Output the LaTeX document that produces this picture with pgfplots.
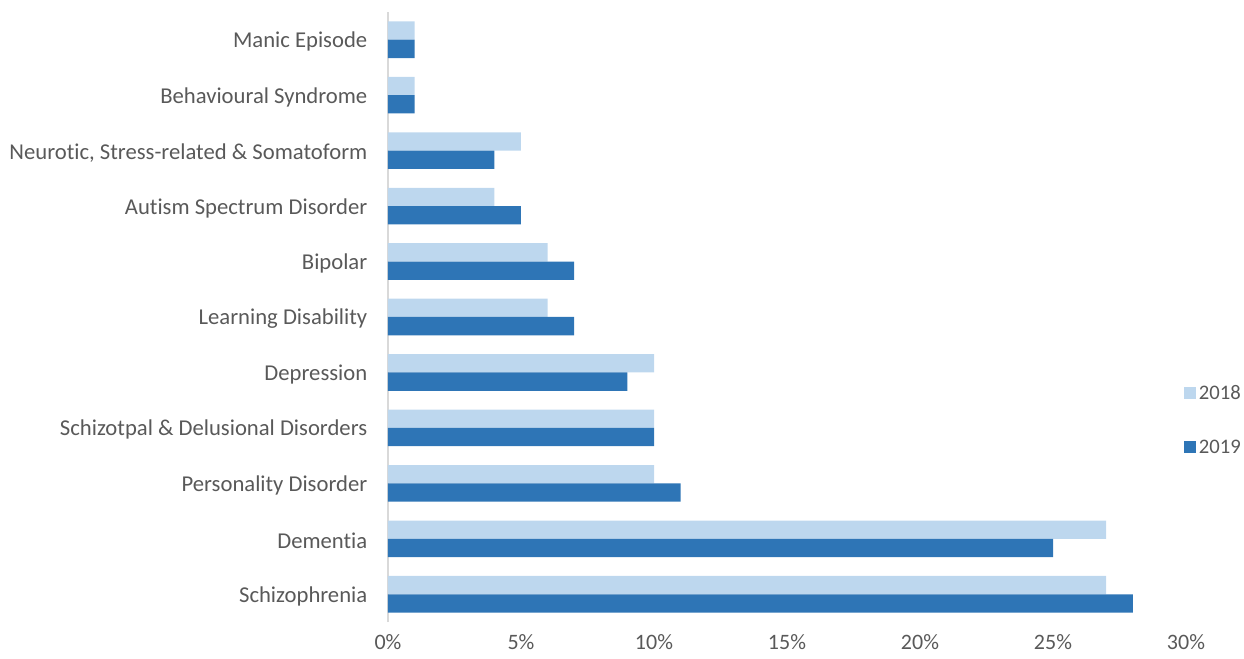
\documentclass[border=0pt]{standalone}
\usepackage{pgfplots}
\pgfplotsset{compat=1.18}
\usepackage{fontspec}
\setmainfont{Carlito}[Ligatures=NoCommon]
\definecolor{lightbar}{HTML}{BDD7EE}
\definecolor{darkbar}{HTML}{2E75B6}
\definecolor{txt}{HTML}{595959}
\definecolor{axisgray}{HTML}{D9D9D9}
\begin{document}
\begin{tikzpicture}
\useasboundingbox (-291pt,-27.75pt) rectangle (642pt,466.5pt);
\begin{axis}[
  at={(0,0)}, anchor=south west,
  scale only axis,
  width=598.5pt, height=457.5pt,
  xbar, bar width=0.33,
  xmin=0, xmax=30,
  ymin=-0.5, ymax=10.5,
  xtick={0,5,...,30},
  xticklabel={\pgfmathprintnumber{\tick}\%},
  ytick={0,...,10},
  yticklabels={Schizophrenia,Dementia,Personality Disorder,Schizotpal \& Delusional Disorders,Depression,Learning Disability,Bipolar,Autism Spectrum Disorder,{Neurotic, Stress-related \& Somatoform},Behavioural Syndrome,Manic Episode},
  axis lines*=left,
  axis line style={-},
  x axis line style={draw=none},
  y axis line style={draw=axisgray, line width=1pt},
  major tick length=0pt,
  tick label style={text=txt},
  yticklabel style={font=\fontsize{17}{20}\selectfont, xshift=-12pt, yshift=-1.5pt},
  xticklabel style={font=\fontsize{16.5}{20}\selectfont, yshift=-6pt},
  /pgf/number format/assume math mode=true,
  legend style={draw=none, fill=none, at={(0.9925,0.331)}, anchor=west,
    font=\fontsize{15.5}{18}\selectfont, text=txt, row sep=25pt,
    legend cell align=left},
  legend image code/.code={\fill[#1] (0pt,-4.5pt) rectangle (9pt,4.5pt);},
]
% 2018 sits above, 2019 below each category
\addplot[fill=lightbar, draw=none, bar shift=0.165] coordinates {
  (27,0) (27,1) (10,2) (10,3) (10,4) (6,5) (6,6) (4,7) (5,8) (1,9) (1,10)};
\addplot[fill=darkbar, draw=none, bar shift=-0.165] coordinates {
  (28,0) (25,1) (11,2) (10,3) (9,4) (7,5) (7,6) (5,7) (4,8) (1,9) (1,10)};
\legend{2018,2019}
\end{axis}
\end{tikzpicture}
\end{document}
